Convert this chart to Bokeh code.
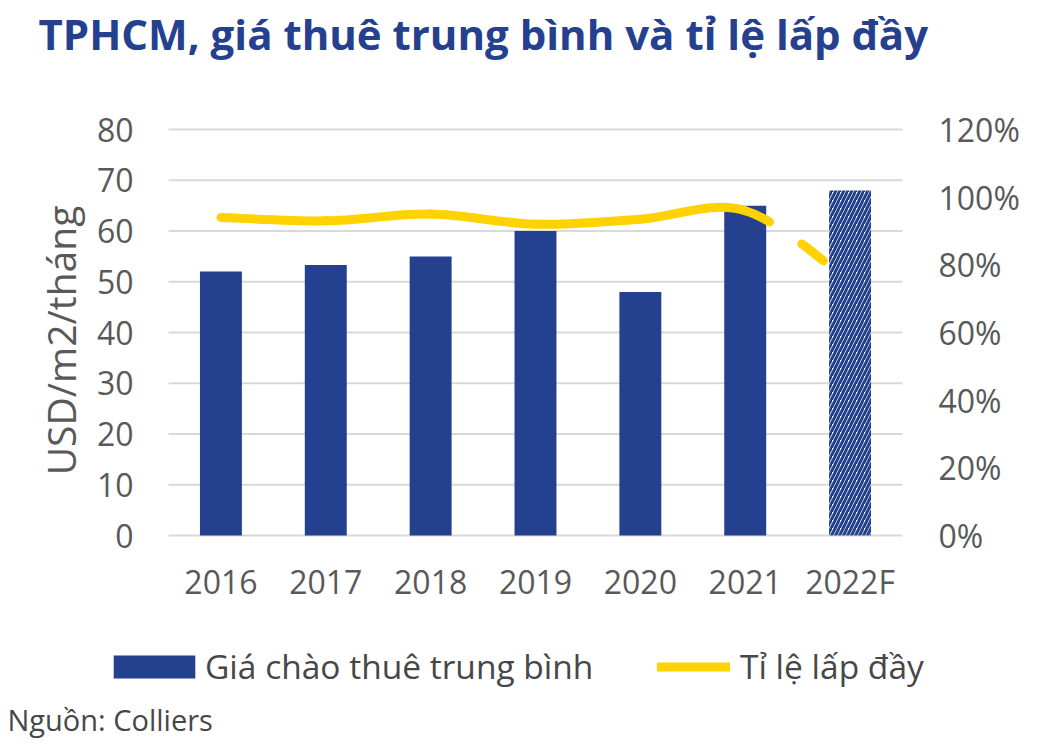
import math
from bokeh.plotting import figure
from bokeh.models import (Range1d, LinearAxis, FixedTicker, PrintfTickFormatter,
                          Label, Legend, LegendItem)
from bokeh.embed import file_html
from bokeh.resources import INLINE

# ---------------- data ----------------
years = ["2016", "2017", "2018", "2019", "2020", "2021", "2022F"]
rent = [52, 53.3, 55, 60, 48, 65, 68]            # USD/m2/tháng
occupancy = [94, 93, 95, 92, 93.5, 96, 75]       # %
left_ticks = [0, 10, 20, 30, 40, 50, 60, 70, 80]
right_ticks = [0, 20, 40, 60, 80, 100, 120]
title_text = "TPHCM, giá thuê trung bình và tỉ lệ lấp đầy"
y_label = "USD/m2/tháng"
bar_label = "Giá chào thuê trung bình"
line_label = "Tỉ lệ lấp đầy"
source_text = "Nguồn: Colliers"

# ---------------- style ----------------
BLUE = "#24408e"
YELLOW = "#ffd200"
GRID = "#d9d9d9"
TICK = "#595959"
TEXT = "#474747"
FONT = "Open Sans"

W, H = 1027, 738
PL, PR, PT, PB = 168, 902, 129, 535     # plot-area edges in page pixels
NCAT = len(years)
YMAX, PMAX = 80, 120
ux = (PR - PL) / NCAT                   # px per category
uy = (PB - PT) / YMAX                   # px per USD
up = (PB - PT) / PMAX                   # px per percent


def dx(px):
    return (px - PL) / ux


def dy(py):
    return (PB - py) / uy


# the frame covers the whole canvas; axes are pinned to the plot area edges
p = figure(width=W, height=H, output_backend="svg", toolbar_location=None,
           x_range=Range1d(dx(0), dx(W)), y_range=Range1d(dy(H), dy(0)),
           min_border=0, min_border_left=0, min_border_right=0,
           min_border_top=0, min_border_bottom=0)
p.outline_line_color = None
p.background_fill_color = "white"
p.border_fill_color = "white"
p.extra_y_ranges = {"pct": Range1d((PB - H) / up, PB / up)}

xs = [i + 0.5 for i in range(NCAT)]

# horizontal gridlines limited to the plot area (from the left-axis ticks)
p.xgrid.visible = False
p.ygrid.visible = False
p.segment(x0=[0] * len(left_ticks), x1=[NCAT] * len(left_ticks),
          y0=left_ticks, y1=left_ticks, line_color=GRID, line_width=2)


def style_axis(ax, standoff):
    ax.axis_line_color = None
    ax.major_tick_line_color = None
    ax.minor_tick_line_color = None
    ax.major_tick_out = 0
    ax.major_tick_in = 0
    ax.major_label_standoff = standoff
    ax.major_label_text_font = FONT
    ax.major_label_text_font_size = "32px"
    ax.major_label_text_color = TICK


xa = p.xaxis[0]
xa.ticker = FixedTicker(ticks=xs)
xa.major_label_overrides = {x: y for x, y in zip(xs, years)}
xa.fixed_location = 0
style_axis(xa, 24)

ya = p.yaxis[0]
ya.ticker = FixedTicker(ticks=left_ticks)
ya.fixed_location = 0
style_axis(ya, 35)

ra = LinearAxis(y_range_name="pct", ticker=FixedTicker(ticks=right_ticks),
                formatter=PrintfTickFormatter(format="%d%%"), fixed_location=NCAT)
style_axis(ra, 36)
p.add_layout(ra, "right")

# bars
bars = p.vbar(x=xs[:-1], top=rent[:-1], width=0.4, fill_color=BLUE, line_color=None)
p.vbar(x=xs[-1:], top=rent[-1:], width=0.4, fill_color="white", line_color=None,
       hatch_pattern="/", hatch_color=BLUE, hatch_scale=8, hatch_weight=3)

# smoothed occupancy line (Catmull-Rom -> cubic Bezier segments)
n = len(xs)


def seg(i):
    p0 = (xs[max(i - 1, 0)], occupancy[max(i - 1, 0)])
    p1 = (xs[i], occupancy[i])
    p2 = (xs[i + 1], occupancy[i + 1])
    p3 = (xs[min(i + 2, n - 1)], occupancy[min(i + 2, n - 1)])
    c1 = (p1[0] + (p2[0] - p0[0]) / 6, p1[1] + (p2[1] - p0[1]) / 6)
    c2 = (p2[0] - (p3[0] - p1[0]) / 6, p2[1] - (p3[1] - p1[1]) / 6)
    return p1, p2, c1, c2


def bez_data(idx):
    d = dict(x0=[], y0=[], x1=[], y1=[], cx0=[], cy0=[], cx1=[], cy1=[])
    for i in idx:
        a, b, c1, c2 = seg(i)
        d["x0"].append(a[0]); d["y0"].append(a[1])
        d["x1"].append(b[0]); d["y1"].append(b[1])
        d["cx0"].append(c1[0]); d["cy0"].append(c1[1])
        d["cx1"].append(c2[0]); d["cy1"].append(c2[1])
    return d


solid = p.bezier(**bez_data(range(0, n - 2)), line_color=YELLOW, line_width=9,
                 line_cap="round", y_range_name="pct")
p.bezier(**bez_data([n - 2]), line_color=YELLOW, line_width=9, line_cap="round",
         line_dash="27 39", y_range_name="pct")

# texts
p.add_layout(Label(x=dx(38), y=dy(33), text=title_text, text_font=FONT,
                   text_font_size="42px", text_font_style="bold", text_color=BLUE,
                   text_baseline="alphabetic", text_align="left"))
p.add_layout(Label(x=dx(60), y=dy(340), text=y_label, text_font=FONT, angle=math.pi / 2,
                   text_font_size="39px", text_color=TICK,
                   text_baseline="alphabetic", text_align="center"))
p.add_layout(Label(x=dx(7), y=dy(719), text=source_text, text_font=FONT,
                   text_font_size="29px", text_color=TEXT,
                   text_baseline="alphabetic", text_align="left"))


def make_legend(item, loc, gw, standoff):
    return Legend(items=[item], location=loc, orientation="horizontal",
                  glyph_width=gw, glyph_height=29, label_standoff=standoff,
                  label_text_font=FONT, label_text_font_size="33.5px",
                  label_text_color=TEXT, padding=0, margin=0, spacing=0,
                  border_line_color=None, background_fill_alpha=0)


p.add_layout(make_legend(LegendItem(label=bar_label, renderers=[bars]),
                         (103, H - 689), 102, 0), "center")
p.add_layout(make_legend(LegendItem(label=line_label, renderers=[solid]),
                         (657, H - 689), 73, 10), "center")

open("out.html", "w").write(file_html(p, INLINE))
